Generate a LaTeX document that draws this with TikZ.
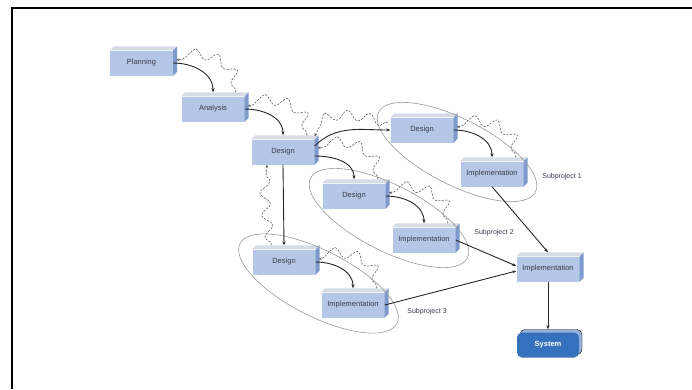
\documentclass[tikz,border=0pt]{standalone}
\usepackage{fontspec}
\setmainfont{Liberation Sans}
\usetikzlibrary{calc,arrows.meta,decorations.pathmorphing,shadows}
\definecolor{frontc}{RGB}{181,199,231}
\definecolor{sidec}{RGB}{126,153,204}
\definecolor{topc}{RGB}{214,219,230}
\definecolor{sysc}{RGB}{52,114,190}
\definecolor{systop}{RGB}{150,178,218}
\definecolor{txtc}{RGB}{55,60,75}
\tikzset{
  blk/.style={fill=frontc, minimum width=63pt, minimum height=25pt, inner sep=1pt,
    font=\fontsize{7.5}{9}\selectfont, text=txtc},
  sysbox/.style={fill=sysc, rounded corners=5pt, minimum width=62pt, minimum height=25pt,
    inner sep=1pt, font=\fontsize{7.5}{9}\selectfont\bfseries, text=white,
    copy shadow={shadow xshift=3pt, shadow yshift=3pt, fill=systop}},
  flow/.style={draw=black!85, line width=0.9pt, -{Stealth[length=4pt,width=3pt]}},
  back/.style={draw=black!65, line width=0.55pt, dash pattern=on 2.2pt off 1.3pt,
    decorate, decoration={snake, amplitude=5pt, segment length=22pt, pre length=2pt, post length=3pt},
    -{Stealth[length=3pt,width=2.5pt]}},
  grp/.style={draw=black!40, line width=0.6pt},
  lbl/.style={font=\fontsize{7}{8}\selectfont, text=txtc},
}
\newcommand\cubenode[3]{%
  \node[blk] (#1) at (#2) {#3};
  \fill[topc] (#1.north west) -- ++(4,-4) -- ($(#1.north east)+(4,-4)$) -- (#1.north east) -- cycle;
  \fill[sidec] (#1.north east) -- ++(4,-4) -- ($(#1.south east)+(4,-4)$) -- (#1.south east) -- cycle;
}
\begin{document}
\begin{tikzpicture}[x=1pt,y=-1pt]
\useasboundingbox (0,0) rectangle (692,389);
\draw[line width=2.4pt] (12,389) -- (12,8) -- (692,8);

% nodes
\cubenode{Planning}{141.5,63}{Planning}
\cubenode{Analysis}{213,109}{Analysis}
\cubenode{DesignM}{283,152}{Design}
\cubenode{DesignS1}{422,130}{Design}
\cubenode{ImplS1}{492,174}{Implementation}
\cubenode{DesignS2}{354,196}{Design}
\cubenode{ImplS2}{424,240}{Implementation}
\cubenode{DesignS3}{284,262}{Design}
\cubenode{ImplS3}{353,305}{Implementation}
\cubenode{ImplF}{548,269}{Implementation}
\node[sysbox] (System) at (548,345) {System};

% groups
\draw[grp] ($(DesignS1)!0.5!(ImplS1)$) ellipse [x radius=88pt, y radius=33pt, rotate=-27];
\draw[grp] ($(DesignS2)!0.5!(ImplS2)$) ellipse [x radius=88pt, y radius=33pt, rotate=-27];
\draw[grp] ($(DesignS3)!0.5!(ImplS3)$) ellipse [x radius=88pt, y radius=33pt, rotate=-27];
\node[lbl] (L1) at (562,177) {Subproject 1};
\node[lbl] (L2) at (494,233) {Subproject 2};
\node[lbl] (L3) at (427,312) {Subproject 3};

% forward flow
\draw[flow] (Planning.east) to[out=0,in=90] ($(Analysis.north)+(0,-4)$);
\draw[flow] (Analysis.east) to[out=0,in=90] ($(DesignM.north)+(0,-4)$);
\draw[flow] ($(DesignM.east)+(0,-6)$) to[out=45,in=180] (DesignS1.west);
\draw[flow] ($(DesignM.east)+(0,4)$) to[out=0,in=90] ($(DesignS2.north)+(0,-4)$);
\draw[flow] (DesignM.south) -- ($(DesignS3.north)+(0,-4)$);
\draw[flow] (DesignS1.east) to[out=0,in=90] ($(ImplS1.north)+(0,-4)$);
\draw[flow] (DesignS2.east) to[out=0,in=90] ($(ImplS2.north)+(0,-4)$);
\draw[flow] (DesignS3.east) to[out=0,in=90] ($(ImplS3.north)+(0,-4)$);
\draw[flow] (ImplS1.south) -- ($(ImplF.north)+(0,-4)$);
\draw[flow] (ImplS2.east) -- ($(ImplF.west)+(0,-3)$);
\draw[flow] (ImplS3.east) -- ($(ImplF.west)+(0,2)$);
\draw[flow] (ImplF.south) -- ($(System.north)+(0,-3)$);

% feedback (wavy dashed)
\draw[back] ($(Analysis.north east)+(-9,-4)$) to[out=85,in=10] ($(Planning.east)+(3,-3)$);
\draw[back] ($(DesignM.north east)+(-8,-4)$) to[out=85,in=10] ($(Analysis.east)+(3,-3)$);
\draw[back] ($(DesignS1.west)+(-2,-7)$) to[out=165,in=70] ($(DesignM.north east)+(0,-3)$);
\draw[back] ($(DesignS2.north east)+(-8,-4)$) to[out=85,in=10] ($(DesignM.east)+(3,-4)$);
\draw[back] ($(DesignS3.north west)+(19,-4)$) to[out=100,in=265] ($(DesignM.south)+(-16,0)$);
\draw[back] ($(ImplS1.north east)+(-8,-4)$) to[out=85,in=10] ($(DesignS1.east)+(3,-3)$);
\draw[back] ($(ImplS2.north east)+(-8,-4)$) to[out=85,in=10] ($(DesignS2.east)+(3,-3)$);
\draw[back] ($(ImplS3.north east)+(-8,-4)$) to[out=85,in=10] ($(DesignS3.east)+(3,-3)$);
\end{tikzpicture}
\end{document}
